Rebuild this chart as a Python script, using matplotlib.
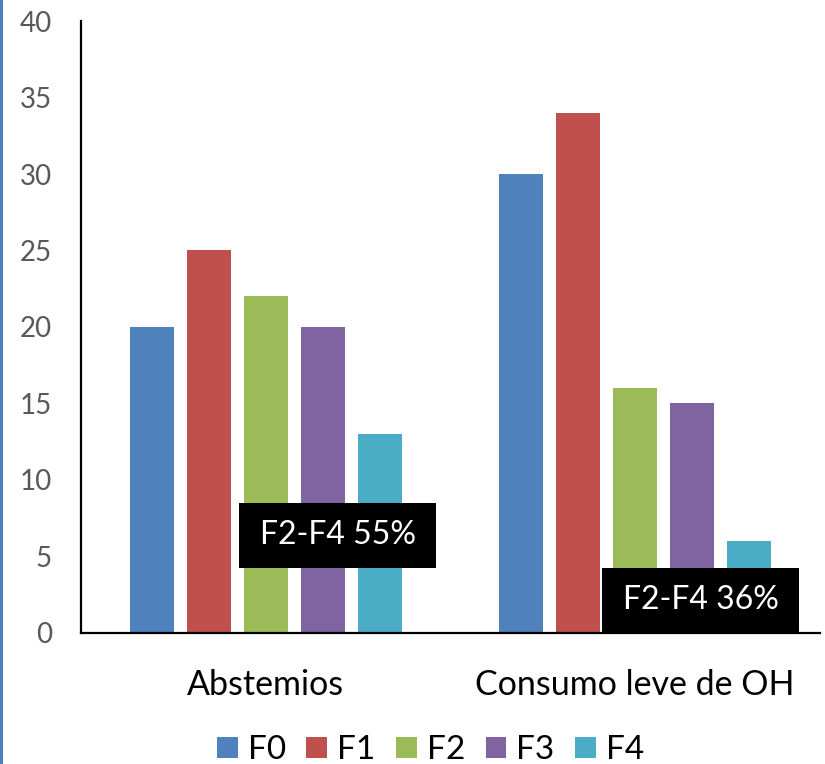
import matplotlib
matplotlib.use("Agg")
import matplotlib.pyplot as plt
from matplotlib.patches import Rectangle
import numpy as np

plt.rcParams['font.family'] = ['Lato', 'DejaVu Sans']

categories = ["Abstemios", "Consumo leve de OH"]
series = ["F0", "F1", "F2", "F3", "F4"]
values = {
    "F0": [20, 30],
    "F1": [25, 34],
    "F2": [22, 16],
    "F3": [20, 15],
    "F4": [13, 6],
}
colors = ["#4F81BD", "#C0504D", "#9BBB59", "#8064A2", "#4BACC6"]
notes = ["F2-F4 55%", "F2-F4 36%"]
yticks = [0, 5, 10, 15, 20, 25, 30, 35, 40]

fig = plt.figure(figsize=(8.25, 7.64), dpi=100)
ax = fig.add_axes([0.0982, 0.1715, 0.8957, 0.801])

# thin accent stripe along the left edge of the figure
fig.patches.append(Rectangle((0, 0), 3 / 825, 1, transform=fig.transFigure,
                             facecolor="#4F81BD", edgecolor="none"))

x = np.arange(len(categories))
width = 0.119
step = 0.154
for i, (name, col) in enumerate(zip(series, colors)):
    ax.bar(x + (i - 2) * step, values[name], width, color=col, label=name,
           zorder=2, linewidth=0)

ax.set_xlim(-0.5, 1.5)
ax.set_ylim(0, 40)
ax.set_yticks(yticks)
ax.set_xticks(x)
ax.set_xticklabels(categories)
ax.tick_params(axis="y", length=0, pad=21, labelsize=20, labelcolor="#595959")
ax.tick_params(axis="x", length=0, pad=26, labelsize=24.5, labelcolor="#000000")

for s in ["top", "right"]:
    ax.spines[s].set_visible(False)
ax.spines["left"].set_linewidth(1.6)
ax.spines["bottom"].set_linewidth(1.6)
ax.spines["bottom"].set_color("#000000")

# black note boxes with white text
boxes = [(0.2138, 0.1062, 0.2666, 0.1062), (0.705, 0.0, 0.2666, 0.1062)]
for (bx, by, bw, bh), txt in zip(boxes, notes):
    ax.add_patch(Rectangle((bx, by), bw, bh, transform=ax.transAxes,
                           facecolor="black", edgecolor="none", zorder=4))
    ax.text(bx + bw / 2, by + bh / 2, txt, transform=ax.transAxes,
            ha="center", va="center", color="white", fontsize=23, zorder=5)

leg = fig.legend(loc="center", bbox_to_anchor=(0.522, 0.018), ncol=5,
                 frameon=False, fontsize=24, handlelength=0.62,
                 handleheight=0.62, handletextpad=0.3, columnspacing=0.62,
                 borderaxespad=0)

fig.savefig("out.png", dpi=100)
